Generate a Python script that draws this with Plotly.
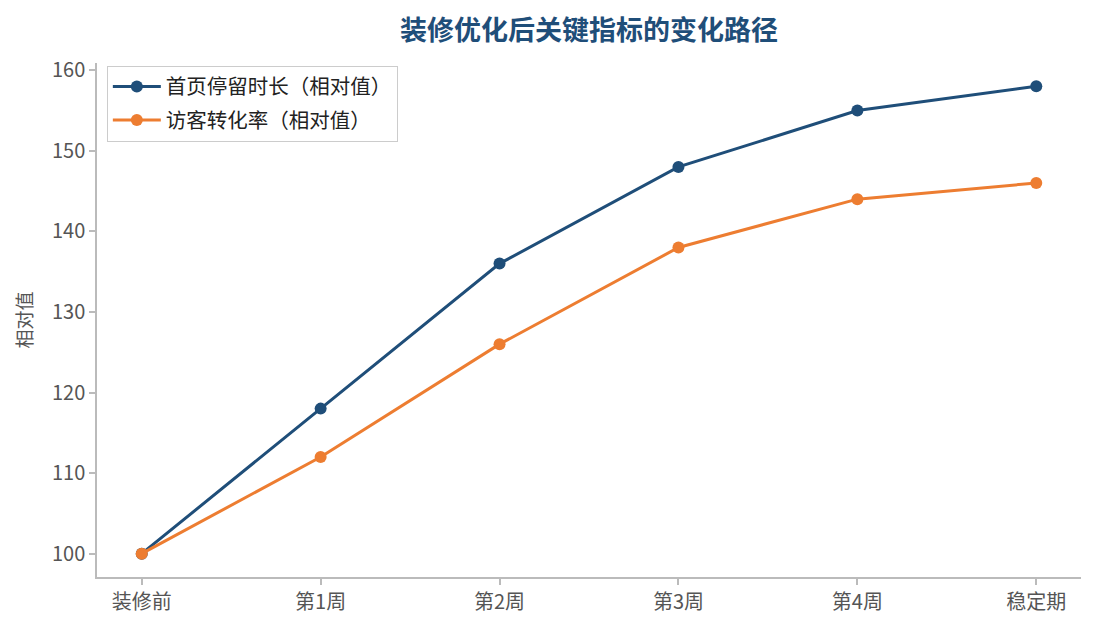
import plotly.graph_objects as go

categories = ["装修前", "第1周", "第2周", "第3周", "第4周", "稳定期"]
dwell_time = [100, 118, 136, 148, 155, 158]
conversion = [100, 112, 126, 138, 144, 146]
series_names = ["首页停留时长（相对值）", "访客转化率（相对值）"]
y_ticks = [100, 110, 120, 130, 140, 150, 160]

FONT = "Noto Sans CJK SC"
BLUE = "#1f4e79"
ORANGE = "#ed7d31"
GRAY = "#555555"
AXIS = "#bbbbbb"

L, R, T, B = 89, 22, 55, 61

fig = go.Figure()
fig.add_trace(go.Scatter(x=list(range(len(categories))), y=dwell_time, name=series_names[0],
                         mode="lines+markers", line=dict(color=BLUE, width=3),
                         marker=dict(size=12, color=BLUE), legendgroup="a"))
fig.add_trace(go.Scatter(x=list(range(len(categories))), y=conversion, name=series_names[1],
                         mode="lines+markers", line=dict(color=ORANGE, width=3),
                         marker=dict(size=12, color=ORANGE), legendgroup="b"))

fig.update_layout(
    width=1095, height=630,
    paper_bgcolor="white", plot_bgcolor="white",
    margin=dict(l=L, r=R, t=T, b=B),
    font=dict(family=FONT, color=GRAY, size=20),
    title=dict(text="<b>装修优化后关键指标的变化路径</b>", x=(L + (1095 - R)) / 2 / 1095, xanchor="center",
               y=1 - 23 / 630, yanchor="middle",
               font=dict(family=FONT, size=27, color=BLUE)),
    showlegend=True,
    legend=dict(x=0.01, y=0.995, xanchor="left", yanchor="top",
                bgcolor="white", bordercolor="#cccccc", borderwidth=1,
                itemwidth=48, tracegroupgap=4,
                font=dict(family=FONT, size=20.5, color="#222222")),
    xaxis=dict(range=[-0.25, 5.25], tickmode="array", tickvals=list(range(len(categories))),
               ticktext=categories, showgrid=False, zeroline=False,
               showline=True, linecolor=AXIS, linewidth=1.5,
               ticks="outside", ticklen=6, tickcolor=AXIS, tickwidth=1.5,
               tickfont=dict(size=20, color=GRAY)),
    yaxis=dict(range=[97.1, 160.9], tickmode="array", tickvals=y_ticks, showgrid=False,
               zeroline=False, showline=True, linecolor=AXIS, linewidth=1.5,
               ticks="outside", ticklen=6, tickcolor=AXIS, tickwidth=1.5,
               tickfont=dict(size=20, color=GRAY),
               title=dict(text="相对值", font=dict(size=19, color=GRAY), standoff=14)),
)

fig.write_html("out.html")
